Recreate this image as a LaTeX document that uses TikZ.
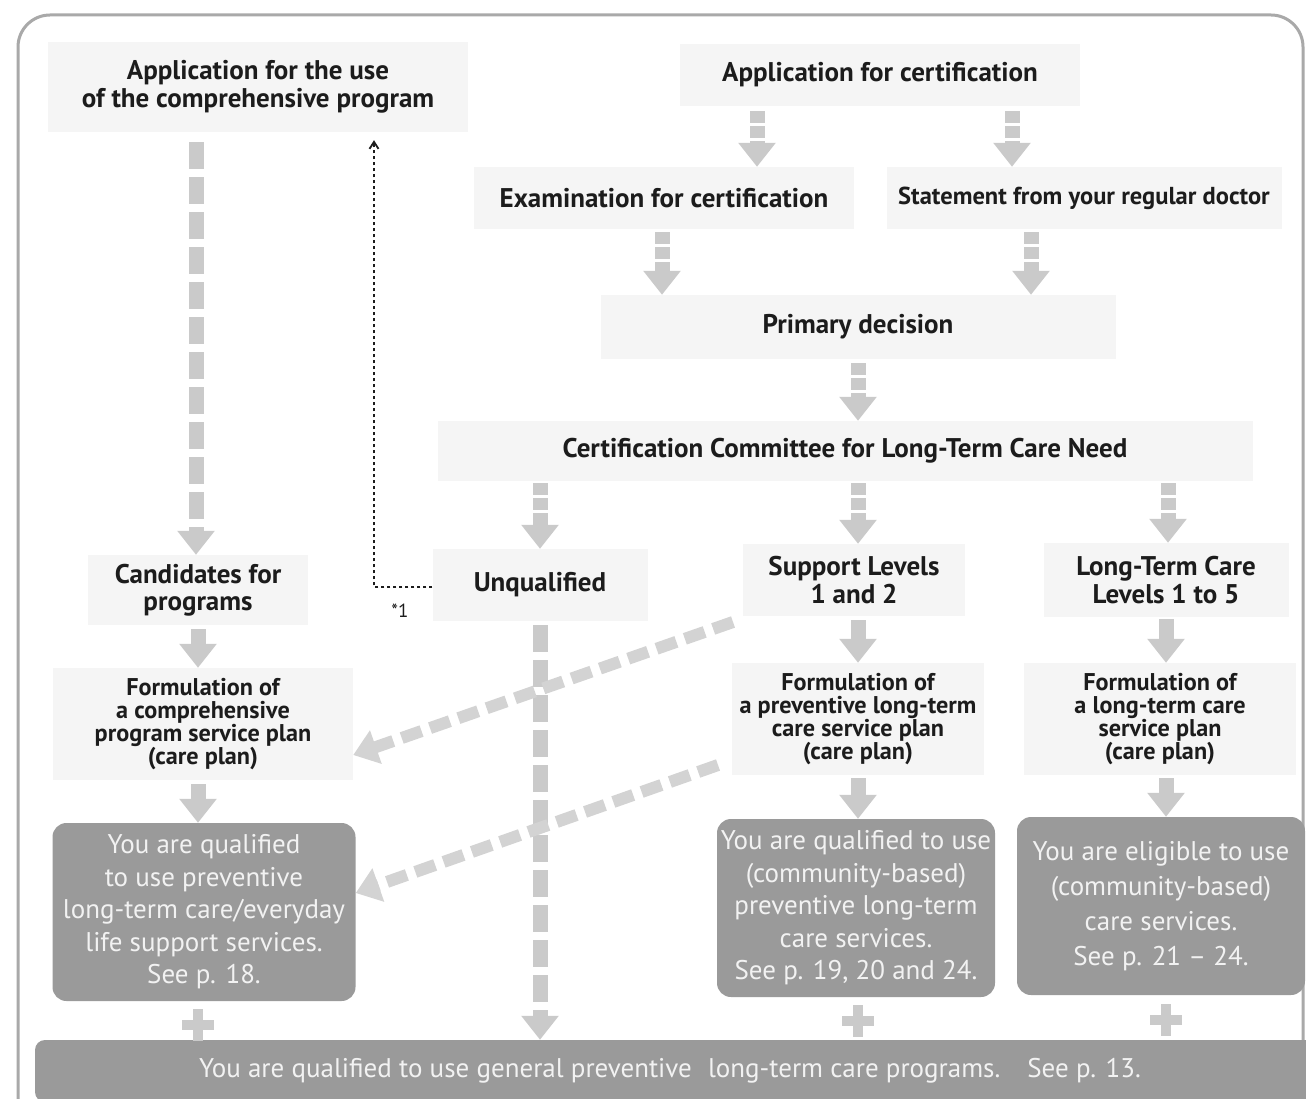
\documentclass[tikz,border=0pt]{standalone}
\usepackage{fontspec}
\setmainfont{PT Sans}
\usetikzlibrary{arrows.meta}
\definecolor{boxbg}{HTML}{F5F5F5}
\definecolor{arrgray}{HTML}{CACACA}
\definecolor{diaggray}{HTML}{D3D3D3}
\definecolor{darkbox}{HTML}{9A9A9A}
\definecolor{framegray}{HTML}{A9A9A9}
\definecolor{ink}{HTML}{1C1C1C}
\definecolor{lighttext}{HTML}{F2F2F2}
\begin{document}
\begin{tikzpicture}[x=1pt,y=-1pt,
  lbox/.style={fill=boxbg, inner sep=0pt, align=center, text=ink, font=\bfseries\fontsize{27}{28}\selectfont},
  fbox/.style={lbox, font=\bfseries\fontsize{24.2}{23}\selectfont},
  dbox/.style={fill=darkbox, rounded corners=14pt, inner sep=0pt, align=center, text=lighttext, font=\fontsize{27}{32.5}\selectfont},
  blk/.style={draw=arrgray, line width=15pt, -{Triangle[width=36pt,length=24pt]}, arrgray},
  blkdash/.style={blk, dash pattern=on 27pt off 8pt},
  blkshort/.style={blk, dash pattern=on 12pt off 3pt},
  diag/.style={draw=diaggray, line width=12pt, dash pattern=on 21pt off 9pt, -{Triangle[width=34pt,length=24pt]}},
  dotline/.style={draw=ink, line width=1.8pt, dash pattern=on 3pt off 3pt},
  plus/.style={draw=arrgray, line width=10pt}
]
\useasboundingbox (0,0) rectangle (1306,1099);
\fill[white] (0,0) rectangle (1306,1099);
% frame
\draw[framegray, line width=3pt, rounded corners=32pt] (18,1200) -- (18,15) -- (1303,15) -- (1303,1200);

% nodes
\node[lbox, minimum width=420pt, minimum height=90pt] (appuse) at (258,87) {Application for the use\\of the comprehensive program};
\node[lbox, minimum width=400pt, minimum height=62pt] (appcert) at (880,75) {Application for certification};
\node[lbox, minimum width=380pt, minimum height=62pt] (exam) at (664,198) {Examination for certification};
\node[lbox, minimum width=395pt, minimum height=62pt, font=\bfseries\fontsize{24.5}{26}\selectfont] (stmt) at (1084,198) {Statement from your regular doctor};
\node[lbox, minimum width=515pt, minimum height=64pt] (prim) at (858,327) {Primary decision};
\node[lbox, minimum width=815pt, minimum height=60pt] (comm) at (845,451) {Certification Committee for Long-Term Care Need};
\node[lbox, minimum width=220pt, minimum height=70pt, font=\bfseries\fontsize{27}{27}\selectfont] (cand) at (198,590) {Candidates for\\programs};
\node[lbox, minimum width=215pt, minimum height=72pt] (unq) at (540,585) {Unqualified};
\node[lbox, minimum width=222pt, minimum height=72pt] (supp) at (854,580) {Support Levels\\1 and 2};
\node[lbox, minimum width=245pt, minimum height=74pt] (ltc) at (1166,580) {Long-Term Care\\Levels 1 to 5};
\node[fbox, minimum width=300pt, minimum height=112pt] (form1) at (203,724) {Formulation of\\a comprehensive\\program service plan\\(care plan)};
\node[fbox, minimum width=252pt, minimum height=112pt] (form2) at (858,719) {Formulation of\\a preventive long-term\\care service plan\\(care plan)};
\node[fbox, minimum width=272pt, minimum height=112pt] (form3) at (1160,719) {Formulation of\\a long-term care\\service plan\\(care plan)};
\node[dbox, minimum width=303pt, minimum height=178pt] (dark1) at (204,912) {You are qualified\\to use preventive\\long-term care/everyday\\life support services.\\See p. 18.};
\node[dbox, minimum width=278pt, minimum height=178pt] (dark2) at (856,908) {You are qualified to use\\(community-based)\\preventive long-term\\care services.\\See p. 19, 20 and 24.};
\node[dbox, minimum width=288pt, minimum height=178pt, font=\fontsize{27}{35}\selectfont] (dark3) at (1161,906) {You are eligible to use\\(community-based)\\care services.\\See p. 21 -- 24.};
\node[dbox, rounded corners=10pt, minimum width=1280pt, minimum height=62pt, font=\fontsize{27}{30}\selectfont] (bottom) at (675,1071) {\hspace*{-10pt}You are qualified to use general preventive\hspace{0.6em}long-term care programs.\hspace{1em}See p. 13.};

% vertical block arrows
\draw[blkshort] (appcert.south -| 757,0) ++(0,5) -- (exam.north -| 757,0);
\draw[blkshort] (appcert.south -| 1012,0) ++(0,5) -- (stmt.north -| 1012,0);
\draw[blkshort] (exam.south -| 662,0) ++(0,3) -- (prim.north -| 662,0);
\draw[blkshort] (stmt.south -| 1031,0) ++(0,3) -- (prim.north -| 1031,0);
\draw[blkshort] (prim.south -| 858,0) ++(0,4) -- (comm.north -| 858,0);
\draw[blkdash] (appuse.south -| 196,0) ++(0,10) -- (cand.north -| 196,0) ;
\draw[blkshort] (comm.south -| 540,0) ++(0,2) -- (unq.north -| 540,0);
\draw[blkshort] (comm.south -| 858,0) ++(0,2) -- (supp.north -| 858,0);
\draw[blkshort] (comm.south -| 1168,0) ++(0,2) -- (ltc.north -| 1168,0);
\draw[blk] (cand.south -| 198,0) ++(0,4) -- (form1.north -| 198,0);
\draw[blk] (form1.south -| 198,0) ++(0,4) -- (dark1.north -| 198,0);
\draw[blk] (supp.south -| 858,0) ++(0,4) -- (form2.north -| 858,0);
\draw[blk] (form2.south -| 858,0) ++(0,3) -- (dark2.north -| 858,0);
\draw[blk] (ltc.south -| 1166,0) ++(0,2) -- (form3.north -| 1166,0);
\draw[blk] (form3.south -| 1166,0) ++(0,3) -- (dark3.north -| 1166,0);
\draw[blkdash] (unq.south -| 540,0) ++(0,4) -- (bottom.north -| 540,0);

% diagonal dashed arrows
\coordinate (d1s) at (733,622);
\coordinate (d2s) at (718,765);
\draw[diag] (d1s) -- (form1.east |- 0,755);
\draw[diag] (d2s) -- (dark1.east |- 0,893);

% dotted feedback
\coordinate (fbk) at (374,587);
\draw[dotline, -{Straight Barb[length=7pt,width=9pt]}, shorten >=8pt] (unq.west |- fbk) -- (fbk) -- (appuse.south -| fbk);
\node[font=\fontsize{19}{22}\selectfont, text=ink] (star) at (400,611) {*1};

% plus signs
\foreach \px/\py in {198/1025, 858/1021, 1166/1020}{
  \draw[plus] (\px-16,\py) -- (\px+16,\py);
  \draw[plus] (\px,\py-16) -- (\px,\py+16);
}
\end{tikzpicture}
\end{document}
